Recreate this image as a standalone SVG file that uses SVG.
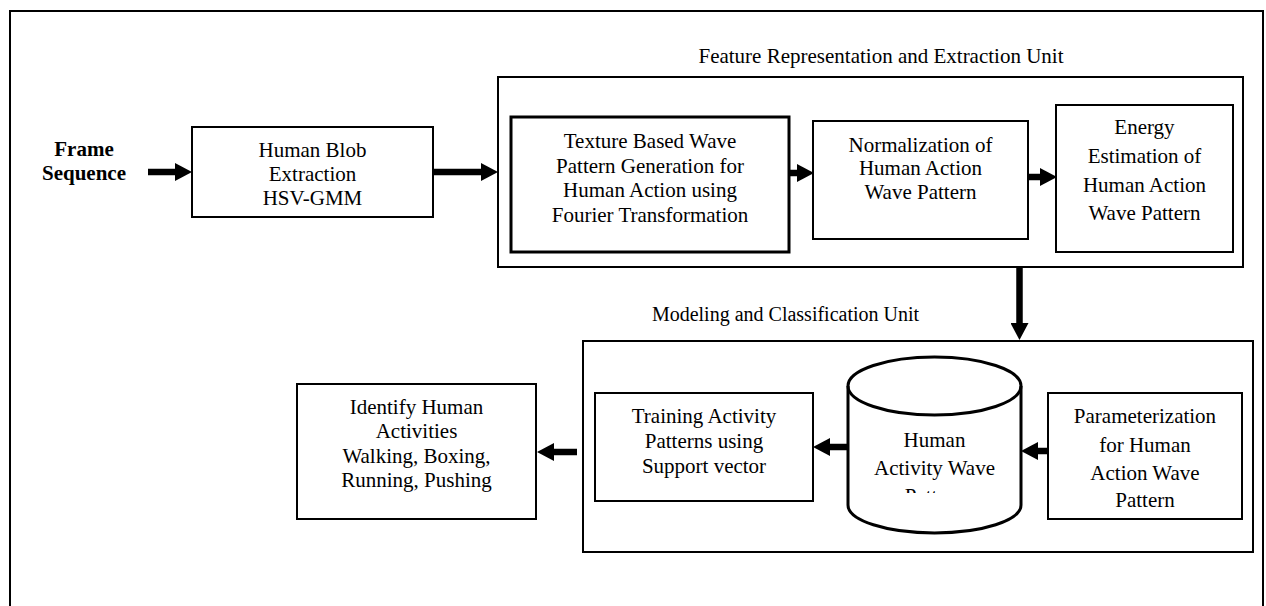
<svg xmlns="http://www.w3.org/2000/svg" width="1266" height="606" viewBox="0 0 1266 606">
  <defs>
    <style>
      text { font-family: 'Liberation Serif', 'DejaVu Serif', serif; font-size: 21px; fill: #000; text-anchor: middle; }
      .bold { font-weight: bold; }
      .box { fill: #fff; stroke: #000; stroke-width: 2; }
      .thick { stroke-width: 3; }
      .conn { stroke: #000; stroke-width: 6.5; fill: none; marker-end: url(#head); }
    </style>
    <marker id="head" markerUnits="userSpaceOnUse" markerWidth="17" markerHeight="18" refX="0" refY="9" orient="auto">
      <path d="M0,0 L17,9 L0,18 Z" fill="#000"/>
    </marker>
    <clipPath id="cylClip">
      <rect x="848" y="400" width="174" height="93"/>
    </clipPath>
  </defs>

  <rect width="1266" height="606" fill="#fff"/>

  <!-- page frame -->
  <rect x="10" y="11" width="1253" height="620" fill="none" stroke="#000" stroke-width="2"/>

  <g font-family="Liberation Serif, DejaVu Serif, serif">
  <g id="frame-sequence">
    <text class="bold" x="84" y="156">Frame</text>
    <text class="bold" x="84" y="180">Sequence</text>
  </g>

  <g id="blob-extraction">
    <rect class="box" x="192" y="127" width="241" height="90"/>
    <text x="312.5" y="157">Human Blob</text>
    <text x="312.5" y="181">Extraction</text>
    <text x="312.5" y="205">HSV-GMM</text>
  </g>

  <g id="feature-unit">
    <text x="881" y="63">Feature Representation and Extraction Unit</text>
    <rect class="box" x="498" y="77" width="745" height="190"/>
  </g>

  <g id="wave-generation">
    <rect class="box thick" x="511" y="117" width="278" height="135"/>
    <text x="650" y="148">Texture Based Wave</text>
    <text x="650" y="173">Pattern Generation for</text>
    <text x="650" y="197">Human Action using</text>
    <text x="650" y="222">Fourier Transformation</text>
  </g>

  <g id="normalization">
    <rect class="box" x="813" y="121" width="215" height="118"/>
    <text x="920.5" y="152">Normalization of</text>
    <text x="920.5" y="175">Human Action</text>
    <text x="920.5" y="199">Wave Pattern</text>
  </g>

  <g id="energy-estimation">
    <rect class="box" x="1056" y="105" width="177" height="147"/>
    <text x="1144.5" y="134">Energy</text>
    <text x="1144.5" y="163">Estimation of</text>
    <text x="1144.5" y="192">Human Action</text>
    <text x="1144.5" y="220">Wave Pattern</text>
  </g>

  <g id="modeling-unit">
    <text x="785.5" y="321" style="font-size:20px">Modeling and Classification Unit</text>
    <rect class="box" x="583" y="341" width="670" height="211" stroke-width="2.5"/>
  </g>

  <g id="training">
    <rect class="box" x="595" y="393" width="218" height="108"/>
    <text x="704" y="423">Training Activity</text>
    <text x="704" y="448">Patterns using</text>
    <text x="704" y="473">Support vector</text>
  </g>

  <g id="wave-database">
    <path d="M848,386 L848,505 A86.5,28 0 0 0 1021,505 L1021,386 A86.5,29 0 0 0 848,386 Z" fill="#fff" stroke="#000" stroke-width="3"/>
    <path d="M848,386 A86.5,29 0 0 0 1021,386" fill="none" stroke="#000" stroke-width="3"/>
    <g clip-path="url(#cylClip)">
      <text x="934.5" y="447">Human</text>
      <text x="934.5" y="475">Activity Wave</text>
      <text x="934.5" y="503">Pattern</text>
    </g>
  </g>

  <g id="parameterization">
    <rect class="box" x="1048" y="393" width="194" height="126"/>
    <text x="1145" y="423">Parameterization</text>
    <text x="1145" y="452">for Human</text>
    <text x="1145" y="480">Action Wave</text>
    <text x="1145" y="507">Pattern</text>
  </g>

  <g id="identify-activities">
    <rect class="box" x="297" y="384" width="239" height="135" stroke-width="1.5"/>
    <text x="416.5" y="414">Identify Human</text>
    <text x="416.5" y="438">Activities</text>
    <text x="416.5" y="463">Walking, Boxing,</text>
    <text x="416.5" y="487">Running, Pushing</text>
  </g>
  </g>

  <g id="connectors">
    <path class="conn" d="M148,172 L175,172"/>
    <path class="conn" d="M433,172 L481,172"/>
    <path class="conn" d="M789,173 L797,173"/>
    <path class="conn" d="M1028,177 L1040,177"/>
    <path class="conn" d="M1019.5,267 L1019.5,323"/>
    <path class="conn" d="M1049,451 L1038,451"/>
    <path class="conn" d="M848,447 L830,447"/>
    <path class="conn" d="M577,452 L554,452"/>
  </g>
</svg>
